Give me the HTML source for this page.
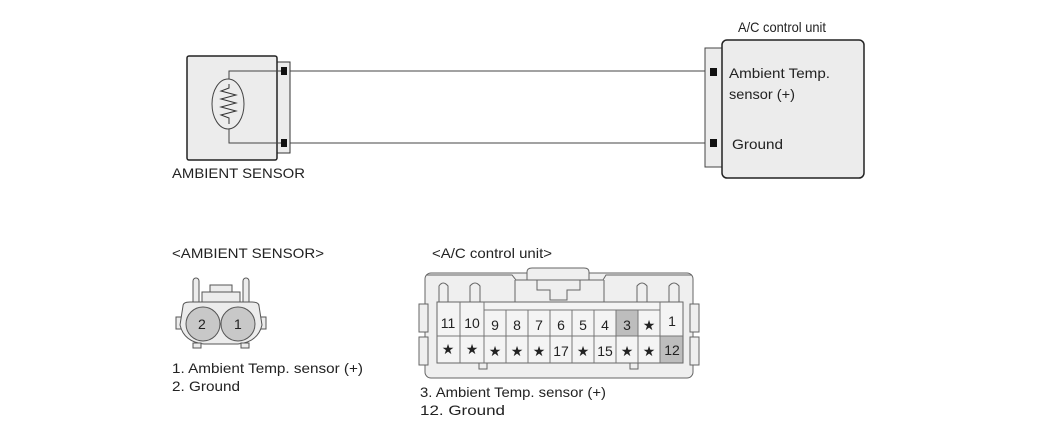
<!DOCTYPE html>
<html><head><meta charset="utf-8"><style>body{margin:0;background:#fff}svg{display:block}text{font-family:"Liberation Sans",sans-serif;font-size:14px;fill:#222}</style></head><body>
<svg width="1050" height="436" viewBox="0 0 1050 436" xmlns="http://www.w3.org/2000/svg">
<rect x="277" y="62" width="13" height="91" fill="#ececec" stroke="#333"/>
<rect x="187" y="56" width="90" height="104" rx="2" fill="#ececec" stroke="#222" stroke-width="1.5"/>
<polyline points="283,71 229,71 229,143 283,143" fill="none" stroke="#444"/>
<ellipse cx="228" cy="104" rx="16" ry="25" fill="#ececec" stroke="#444"/>
<polyline points="229,84 229,88 221,91 236,95 221,99 236,103 221,107 236,111 221,115 229,118 229,124" fill="none" stroke="#333"/>
<rect x="281" y="67" width="6" height="8" fill="#111"/>
<rect x="281" y="139" width="6" height="8" fill="#111"/>
<line x1="290" y1="71" x2="711" y2="71" stroke="#444"/>
<line x1="290" y1="143" x2="711" y2="143" stroke="#444"/>
<text x="172" y="178" textLength="133" lengthAdjust="spacingAndGlyphs">AMBIENT SENSOR</text>
<text x="738" y="32" textLength="88" lengthAdjust="spacingAndGlyphs">A/C control unit</text>
<rect x="705" y="48" width="17" height="119" fill="#ececec" stroke="#444"/>
<rect x="722" y="40" width="142" height="138" rx="5" fill="#ececec" stroke="#222" stroke-width="1.5"/>
<rect x="710" y="68" width="7" height="8" fill="#111"/>
<rect x="710" y="139" width="7" height="8" fill="#111"/>
<text x="729" y="78" textLength="101" lengthAdjust="spacingAndGlyphs">Ambient Temp.</text>
<text x="729" y="99" textLength="66" lengthAdjust="spacingAndGlyphs">sensor (+)</text>
<text x="732" y="149" textLength="51" lengthAdjust="spacingAndGlyphs">Ground</text>
<text x="172" y="258" textLength="152" lengthAdjust="spacingAndGlyphs">&lt;AMBIENT SENSOR&gt;</text>
<g stroke="#555" fill="#ececec">
<rect x="193" y="278" width="6" height="30" rx="3"/>
<rect x="243" y="278" width="6" height="30" rx="3"/>
<rect x="210" y="285" width="22" height="14"/>
<rect x="202" y="292" width="38" height="14"/>
<rect x="176" y="317" width="8" height="12"/>
<rect x="258" y="317" width="8" height="12"/>
<path d="M183,306 Q183,302 190,302 L252,302 Q259,302 259,306 L262,325 Q258,342 238,344 L204,344 Q184,342 180,325 Z"/>
<rect x="193" y="343" width="8" height="5"/>
<rect x="241" y="343" width="8" height="5"/>
<circle cx="203" cy="324" r="17" fill="#c8c8c8"/>
<circle cx="238" cy="324" r="17" fill="#c8c8c8"/>
</g>
<text x="198" y="329" font-size="13">2</text>
<text x="234" y="329" font-size="13">1</text>
<text x="172" y="373" textLength="191" lengthAdjust="spacingAndGlyphs">1. Ambient Temp. sensor (+)</text>
<text x="172" y="391" textLength="68" lengthAdjust="spacingAndGlyphs">2. Ground</text>
<text x="432" y="258" textLength="120" lengthAdjust="spacingAndGlyphs">&lt;A/C control unit&gt;</text>
<g stroke="#666" fill="#efefef">
<rect x="425" y="273" width="268" height="105" rx="6"/>
<path d="M527,280 L527,272 Q527,268 532,268 L584,268 Q589,268 589,272 L589,280" fill="#efefef"/>
<path d="M426,275 L512,275 L516,280 L603,280 L606,275 L692,275" fill="none"/>
<path d="M515,280 L515,302 L604,302 L604,280" fill="none"/>
<path d="M537,280 L537,290 L550,290 L550,300 L567,300 L567,290 L580,290 L580,280" fill="none"/>
<path d="M439,302 L439,286 Q443,280 448,286 L448,302" fill="none"/>
<path d="M470,302 L470,286 Q475,280 480,286 L480,302" fill="none"/>
<path d="M637,302 L637,286 Q642,280 647,286 L647,302" fill="none"/>
<path d="M669,302 L669,286 Q674,280 679,286 L679,302" fill="none"/>
<rect x="419" y="304" width="9" height="28"/>
<rect x="419" y="337" width="9" height="28"/>
<rect x="690" y="304" width="9" height="28"/>
<rect x="690" y="337" width="9" height="28"/>
<rect x="479" y="363" width="8" height="6"/>
<rect x="630" y="363" width="8" height="6"/>
<rect x="437" y="302" width="246" height="61" fill="#f4f4f4"/>
</g>
<rect x="616.5" y="310.5" width="21.5" height="25" fill="#bdbdbd"/>
<rect x="660.5" y="336.5" width="22" height="26" fill="#bdbdbd"/>
<g stroke="#777" fill="none">
<line x1="437" y1="336" x2="683" y2="336"/>
<line x1="460" y1="302" x2="460" y2="363"/>
<line x1="484" y1="302" x2="484" y2="363"/>
<line x1="660" y1="302" x2="660" y2="363"/>
<line x1="484" y1="310" x2="660" y2="310"/>
<line x1="506" y1="310" x2="506" y2="363"/><line x1="528" y1="310" x2="528" y2="363"/>
<line x1="550" y1="310" x2="550" y2="363"/><line x1="572" y1="310" x2="572" y2="363"/>
<line x1="594" y1="310" x2="594" y2="363"/><line x1="616" y1="310" x2="616" y2="363"/>
<line x1="638" y1="310" x2="638" y2="363"/>
</g>
<g font-size="15" text-anchor="middle">
<text x="448" y="328" text-anchor="middle">11</text><text x="472" y="328" text-anchor="middle">10</text>
<text x="495" y="330" text-anchor="middle">9</text><text x="517" y="330" text-anchor="middle">8</text>
<text x="539" y="330" text-anchor="middle">7</text><text x="561" y="330" text-anchor="middle">6</text>
<text x="583" y="330" text-anchor="middle">5</text><text x="605" y="330" text-anchor="middle">4</text>
<text x="627" y="330" text-anchor="middle">3</text><text x="649" y="330" text-anchor="middle">★</text>
<text x="672" y="326" text-anchor="middle">1</text>
<text x="448" y="354" text-anchor="middle">★</text><text x="472" y="354" text-anchor="middle">★</text>
<text x="495" y="356" text-anchor="middle">★</text><text x="517" y="356" text-anchor="middle">★</text>
<text x="539" y="356" text-anchor="middle">★</text><text x="561" y="356" text-anchor="middle">17</text>
<text x="583" y="356" text-anchor="middle">★</text><text x="605" y="356" text-anchor="middle">15</text>
<text x="627" y="356" text-anchor="middle">★</text><text x="649" y="356" text-anchor="middle">★</text>
<text x="672" y="355" text-anchor="middle">12</text>
</g>
<text x="420" y="397" textLength="186" lengthAdjust="spacingAndGlyphs">3. Ambient Temp. sensor (+)</text>
<text x="420" y="415" textLength="85" lengthAdjust="spacingAndGlyphs">12. Ground</text>
</svg>
</body></html>
